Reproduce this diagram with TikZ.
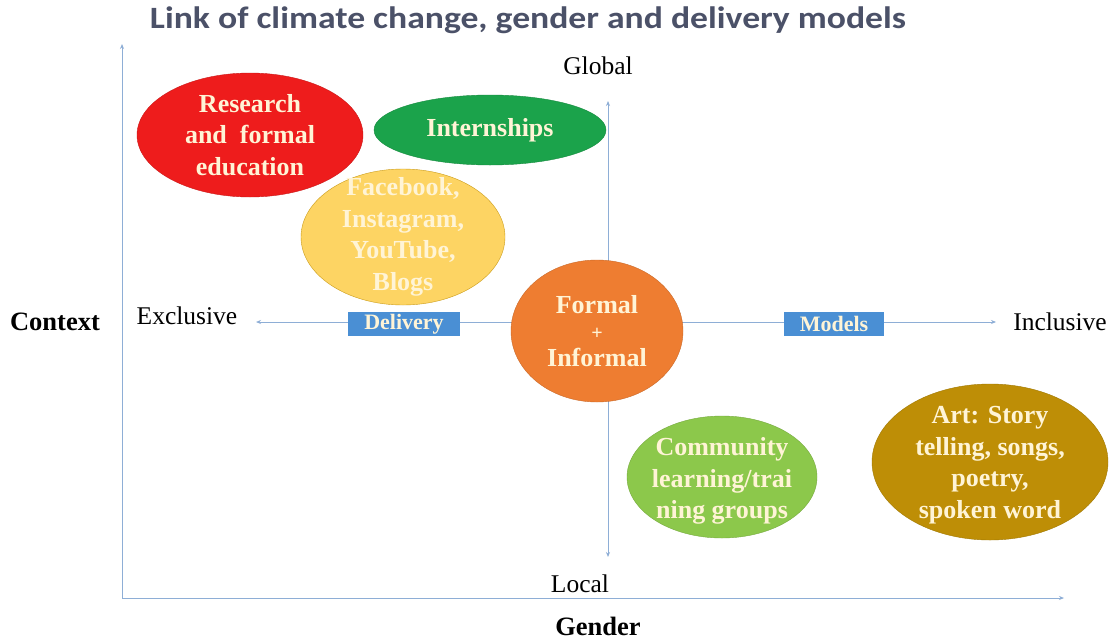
\documentclass[tikz,border=0pt]{standalone}
\usepackage{graphicx}
\usepackage{fontspec}
\setmainfont{Liberation Serif}
\newfontfamily\titlefont{Carlito}
\usetikzlibrary{shapes.geometric,arrows.meta}
\definecolor{axisblue}{HTML}{8EAED6}
\definecolor{boxblue}{HTML}{4A8FD4}
\definecolor{titlegray}{HTML}{4B5168}
\definecolor{cream}{HTML}{FFF4D6}
\definecolor{redfill}{HTML}{EE1C1C}
\definecolor{greenfill}{HTML}{1BA34B}
\definecolor{yellowfill}{HTML}{FDD463}
\definecolor{orangefill}{HTML}{EE7D31}
\definecolor{lightgreen}{HTML}{8CC84B}
\definecolor{goldfill}{HTML}{BE8E06}
\tikzset{
  axis/.style={draw=axisblue, line width=1pt, -{Stealth[length=5pt,width=4pt]}},
  blob/.style={ellipse, inner sep=0pt},
  blobtext/.style={inner sep=0pt, align=center, text=cream,
    font=\fontsize{26}{31.5}\selectfont\bfseries},
  tag/.style={fill=boxblue, text=cream, inner sep=0pt, minimum height=24pt,
    font=\fontsize{22}{24}\selectfont\bfseries},
  plain/.style={font=\fontsize{25.5}{28}\selectfont, inner sep=0pt},
  axtitle/.style={font=\fontsize{26.5}{28}\selectfont\bfseries, inner sep=0pt}
}
\begin{document}
\begin{tikzpicture}[x=1pt,y=-1pt]
\useasboundingbox (0,0) rectangle (1110,640);
\fill[white] (0,0) rectangle (1110,640);

% title
\node[inner sep=0pt, text=titlegray, font=\titlefont\fontsize{31}{34}\selectfont\bfseries]
  (title) at (528,20) {\scalebox{1.15}[1]{Link of climate change, gender and delivery models}};

% outer axes
\coordinate (origin) at (122,598);
\coordinate (ytop) at (122,44);
\coordinate (xend) at (1064,598);
\draw[axis] (origin) -- (ytop);
\draw[axis] (origin) -- (xend);

% inner axes
\coordinate (centre) at (608,322);
\coordinate (up) at (608,101);
\coordinate (down) at (608,557);
\coordinate (left) at (256,322);
\coordinate (right) at (996,322);
\draw[axis] (centre) -- (up);
\draw[axis] (centre) -- (down);
\draw[axis] (centre) -- (left);
\draw[axis] (centre) -- (right);

% axis labels
\node[plain] (global) at (598,66) {Global};
\node[plain] (local) at (580,584) {Local};
\node[plain] (excl) at (187,316) {Exclusive};
\node[plain] (incl) at (1060,322) {Inclusive};
\node[axtitle] (context) at (55,322) {Context};
\node[axtitle] (gender) at (598,626) {Gender};

% delivery ellipses (fixed size, text placed on top)
\node[blob, fill=redfill, draw=redfill!85!black, minimum width=226pt, minimum height=124pt]
  (research) at (250,135) {};
\node[blobtext] at (research) {Research\\and\ \ formal\\education};
\node[blob, fill=greenfill, draw=greenfill!85!black, minimum width=232pt, minimum height=70pt]
  (intern) at (490,130) {};
\node[blobtext] at (intern) {Internships};
\node[blob, fill=yellowfill, draw=goldfill!80!yellowfill, minimum width=204pt, minimum height=136pt]
  (social) at (403,237) {};
\node[blobtext] at (social) {Facebook,\\Instagram,\\YouTube,\\Blogs};
\node[blob, fill=orangefill, draw=orangefill!85!black, minimum width=172pt, minimum height=142pt]
  (formal) at (597,331) {};
\node[blobtext] at (formal) {Formal\\[-5pt]{\fontsize{20}{20}\selectfont +}\\[-5pt]Informal};
\node[blob, fill=lightgreen, draw=lightgreen!85!black, minimum width=190pt, minimum height=122pt]
  (community) at (722,477) {};
\node[blobtext] at ([yshift=-4pt]community.center) {Community\\learning/trai\\ning groups};
\node[blob, fill=goldfill, draw=goldfill!85!black, minimum width=236pt, minimum height=156pt]
  (art) at (990,462) {};
\node[blobtext] at ([yshift=-3pt]art.center) {Art: Story\\telling, songs,\\poetry,\\spoken word};

% axis tags
\node[tag, minimum width=112pt] (delivery) at (404,324) {Delivery};
\node[tag, minimum width=100pt] (models) at (834,324) {Models};
\end{tikzpicture}
\end{document}
